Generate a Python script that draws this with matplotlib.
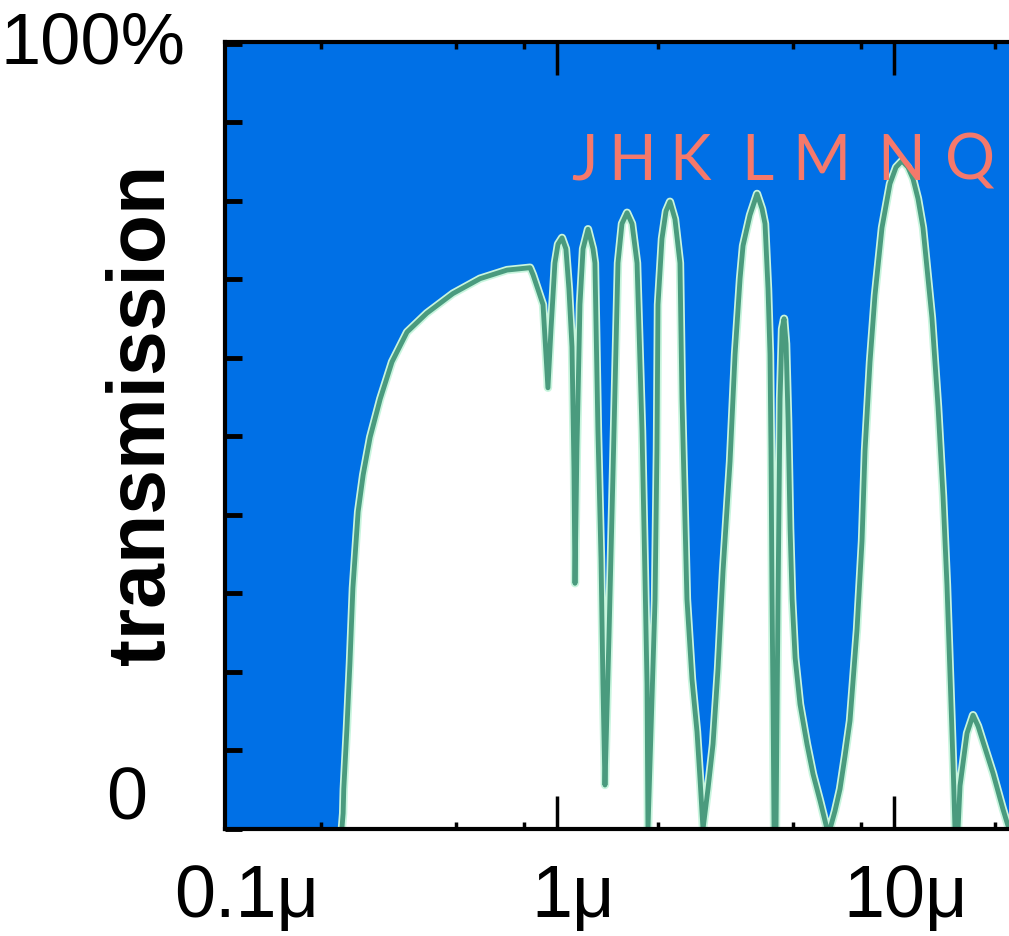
import matplotlib
matplotlib.use('Agg')
import matplotlib.pyplot as plt
from matplotlib.ticker import FixedLocator, NullFormatter

# atmospheric transmission (wavelength in micron, transmission in %)
wavelength = [0.230, 0.232, 0.233, 0.238, 0.243, 0.248, 0.257, 0.266, 0.279, 0.299,
              0.324, 0.359, 0.411, 0.491, 0.591, 0.711, 0.832, 0.849, 0.909, 0.940,
              0.960, 0.986, 1.007, 1.035, 1.063, 1.085, 1.108, 1.123, 1.131, 1.146,
              1.170, 1.195, 1.236, 1.279, 1.296, 1.323, 1.351, 1.369, 1.388, 1.426,
              1.466, 1.517, 1.559, 1.614, 1.670, 1.728, 1.788, 1.825, 1.850, 1.862,
              1.914, 1.954, 1.980, 1.994, 2.049, 2.106, 2.164, 2.239, 2.317, 2.349,
              2.430, 2.515, 2.603, 2.657, 2.712, 2.806, 2.904, 3.005, 3.110, 3.196,
              3.262, 3.376, 3.493, 3.565, 3.739, 3.923, 4.059, 4.143, 4.229, 4.286,
              4.315, 4.345, 4.375, 4.406, 4.466, 4.528, 4.591, 4.654, 4.719, 4.784,
              4.850, 4.918, 4.986, 5.089, 5.261, 5.519, 5.751, 6.033, 6.328, 6.459,
              6.683, 6.916, 7.156, 7.404, 7.767, 8.037, 8.203, 8.488, 8.782, 9.213,
              9.730, 10.14, 10.56, 11.00, 11.39, 11.78, 12.19, 12.96, 13.51, 13.98,
              14.36, 14.66, 14.97, 15.17, 15.49, 15.70, 16.47, 17.16, 17.76, 18.37,
              19.67, 21.06, 21.94]
transmission = [0.0, 2.0, 5.1, 12.7, 21.1, 30.7, 40.4, 45.1, 49.9, 54.8,
                59.5, 63.3, 65.7, 68.2, 70.1, 71.2, 71.5, 70.6, 66.8, 56.2,
                63.7, 72.1, 74.5, 75.3, 73.9, 68.8, 61.4, 45.9, 31.3, 48.4,
                66.8, 73.9, 76.4, 73.9, 72.1, 50.7, 34.4, 18.5, 5.6, 24.2,
                45.2, 72.1, 77.1, 78.5, 77.1, 72.1, 50.7, 31.8, 18.5, 0.0,
                16.6, 29.2, 48.4, 66.8, 75.2, 78.7, 79.9, 77.7, 72.1, 54.8,
                29.3, 19.1, 12.4, 6.4, 0.0, 5.1, 10.8, 20.4, 32.9, 40.8,
                46.8, 60.5, 70.1, 74.3, 78.2, 80.9, 79.0, 77.1, 68.8, 60.5,
                48.4, 30.1, 16.6, 0.0, 0.0, 29.3, 54.8, 63.7, 65.0, 61.8,
                52.2, 38.2, 29.3, 21.8, 15.9, 10.8, 7.0, 3.6, 0.0, 0.0,
                2.3, 5.1, 9.3, 13.8, 25.4, 36.7, 48.2, 59.5, 68.0, 76.6,
                82.2, 84.3, 85.1, 84.3, 82.8, 80.3, 76.6, 65.1, 53.8, 42.4,
                31.1, 19.6, 8.3, 0.0, 0.0, 5.5, 12.2, 14.5, 13.1, 11.1,
                7.1, 2.5, 0.0]

band_names = ['J', 'H', 'K', 'L', 'M', 'N', 'Q']
band_pos = [1.21, 1.67, 2.48, 3.92, 6.07, 10.5, 16.8]
band_level = 82.8

x_label_pos = [0.1, 1, 10]
x_label_text = ['0.1μ', '1μ', '10μ']
x_label_shift = [27, 16, 12]
x_major = [1, 10]
x_minor = [0.2, 0.5, 0.8, 2, 5, 8, 20]
y_ticks = [0, 10, 20, 30, 40, 50, 60, 70, 80, 90, 100]

blue = '#0070e6'
green = '#4a9b7e'
salmon = '#f5796b'
tick_font = 'Liberation Sans'

fig = plt.figure(figsize=(10.09, 9.37), dpi=100)
ax = fig.add_axes([225 / 1009, 107 / 937, 784 / 1009, 787 / 937])
ax.set_facecolor(blue)
ax.set_xscale('log')
ax.set_xlim(0.1035, 21.94)
ax.set_ylim(0, 100.25)

ax.fill_between(wavelength, transmission, 0, color='white', lw=0)
ax.plot(wavelength, transmission, color='#c8f5de', lw=6, solid_joinstyle='round')
ax.plot(wavelength, transmission, color=green, lw=3.5, solid_joinstyle='round')

for name, pos in zip(band_names, band_pos):
    ax.text(pos, band_level, name, color=salmon, fontsize=45, ha='center',
            va='baseline', family='Lato', fontweight='normal')

# axes frame and ticks
for side in ['left', 'bottom', 'top']:
    ax.spines[side].set_linewidth(3)
ax.spines['right'].set_visible(False)
ax.xaxis.set_major_locator(FixedLocator(x_major))
ax.xaxis.set_minor_locator(FixedLocator(x_minor))
ax.xaxis.set_major_formatter(NullFormatter())
ax.xaxis.set_minor_formatter(NullFormatter())
ax.set_yticks(y_ticks)
ax.set_yticklabels([])
ax.tick_params(axis='x', which='major', direction='in', length=24, width=2.5, top=True)
ax.tick_params(axis='x', which='minor', direction='in', length=5, width=2.5, top=True)
ax.tick_params(axis='y', direction='in', length=12, width=3.5, right=False)

for pos, lab, dx in zip(x_label_pos, x_label_text, x_label_shift):
    ax.annotate(lab, xy=(pos, 0), xycoords=('data', 'axes fraction'),
                xytext=(dx, -87), textcoords='offset pixels', ha='center',
                va='baseline', fontsize=53, family=tick_font, annotation_clip=False)

ax.annotate('100%', xy=(0, 100), xycoords=('axes fraction', 'data'),
            xytext=(-40, 0), textcoords='offset pixels', ha='right', va='center',
            fontsize=52, family=tick_font, annotation_clip=False)
ax.annotate('0', xy=(0, 0), xycoords=('axes fraction', 'data'),
            xytext=(-78, 30), textcoords='offset pixels', ha='right', va='center',
            fontsize=53, family=tick_font, annotation_clip=False)

fig.text(143 / 1009, 1 - 414 / 937, 'transmission', rotation=90, ha='center',
         va='center', fontsize=58, fontweight='bold', family='Liberation Sans')

fig.savefig('out.png', dpi=100)
